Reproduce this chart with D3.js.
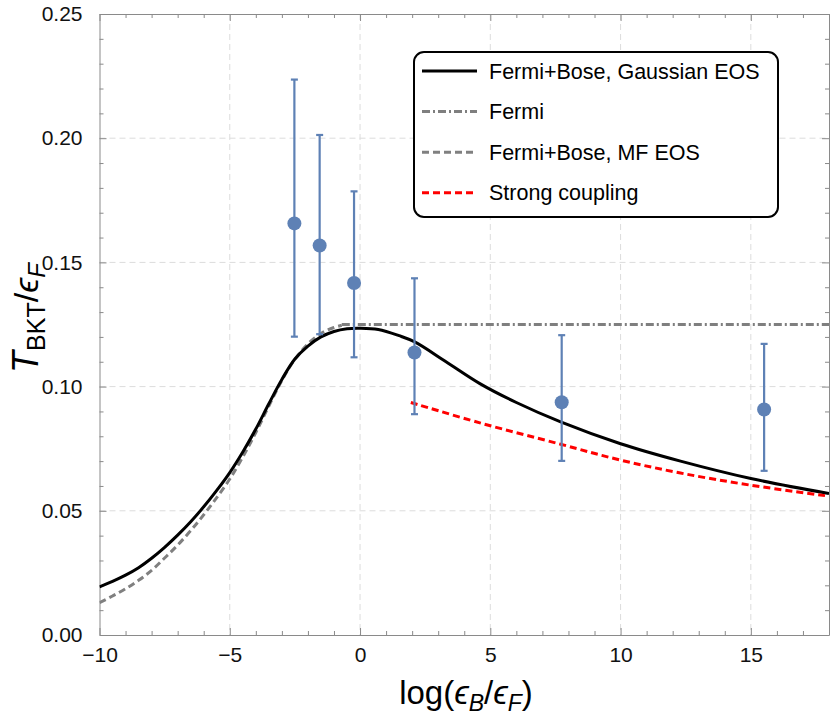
<!DOCTYPE html>
<html>
<head>
<meta charset="utf-8">
<script src="https://cdn.jsdelivr.net/npm/d3@7"></script>
<style>
  body { margin: 0; background: #fff; }
  svg { font-family: "Liberation Sans", Arial, sans-serif; }
  .grid line { stroke: #dcdcdc; stroke-dasharray: 6,4; stroke-width: 1; }
  .axis path, .axis line { stroke: #8a8a8a; }
  .axis text { fill: #111; font-size: 21px; }
</style>
</head>
<body>
<svg width="830" height="717"></svg>
<script>
// curves
var gaussX = [-10, -9.5, -9, -8.5, -8, -7.5, -7, -6.5, -6, -5.5, -5, -4.5, -4, -3.5, -3, -2.5, -2, -1.5, -1, -0.5, 0, 0.7, 1.5, 2.1, 3.3, 4.6, 6, 7.7, 10, 12.3, 15, 18];
var gaussY = [0.0194, 0.0216, 0.0241, 0.0271, 0.0309, 0.0353, 0.0402, 0.0456, 0.0516, 0.0582, 0.0654, 0.0737, 0.0829, 0.0931, 0.1029, 0.1111, 0.1163, 0.1200, 0.1222, 0.1233, 0.1235, 0.1230, 0.1205, 0.1180, 0.1100, 0.1012, 0.0936, 0.0858, 0.0770, 0.0700, 0.0630, 0.0570];

var mfX = [-10, -9.5, -9, -8.5, -8, -7.5, -7, -6.5, -6, -5.5, -5, -4.5, -4, -3.5, -3, -2.5, -2, -1.5, -1, -0.7];
var mfY = [0.0130, 0.0157, 0.0186, 0.0220, 0.0260, 0.0310, 0.0362, 0.0420, 0.0484, 0.0553, 0.0628, 0.0717, 0.0815, 0.0922, 0.1025, 0.1110, 0.1172, 0.1214, 0.1238, 0.1247];

var fermiX = [-0.7, 18];
var fermiY = [0.125, 0.125];

var strongX = [1.95, 4.6, 7.7, 10, 12.3, 15, 18];
var strongY = [0.0936, 0.0854, 0.0768, 0.0704, 0.0652, 0.0603, 0.0559];

// experiment points with error bars
var expX = [-2.52, -1.55, -0.23, 2.09, 7.74, 15.51];
var expY = [0.1657, 0.1568, 0.1417, 0.1137, 0.0937, 0.0908];
var expHi = [0.2236, 0.2013, 0.1786, 0.1436, 0.1207, 0.1172];
var expLo = [0.1201, 0.1211, 0.1118, 0.0889, 0.0701, 0.0661];

var xMajor = [-10, -5, 0, 5, 10, 15];
var yMajor = [0, 0.05, 0.10, 0.15, 0.20, 0.25];

var legendNames = ["Fermi+Bose, Gaussian EOS", "Fermi", "Fermi+Bose, MF EOS", "Strong coupling"];

var pL = 99.5, pR = 829, pT = 14, pB = 635;

var x = d3.scaleLinear().domain([-10, 18]).range([pL, pR]);
var y = d3.scaleLinear().domain([0, 0.25]).range([pB, pT]);

var xMinor = d3.range(-10, 18.01, 1).filter(function(d) { return d % 5 !== 0; });
var yMinor = d3.range(1, 25, 1).filter(function(d) { return d % 5 !== 0; }).map(function(d) { return d / 100; });

var svg = d3.select("svg");

// grid
var grid = svg.append("g").attr("class", "grid");
grid.selectAll(".gx").data(xMajor.slice(1)).enter().append("line")
    .attr("x1", function(d) { return x(d); }).attr("x2", function(d) { return x(d); })
    .attr("y1", pT).attr("y2", pB);
grid.selectAll(".gy").data(yMajor.slice(1, -1)).enter().append("line")
    .attr("y1", function(d) { return y(d); }).attr("y2", function(d) { return y(d); })
    .attr("x1", pL).attr("x2", pR);

// frame axes, ticks point inward
function frame(axisFn, scale, major, minor, transform, labels, fmt, pad) {
    var g = svg.append("g").attr("class", "axis").attr("transform", transform);
    g.call(axisFn(scale).tickValues(major).tickSizeInner(-7).tickSizeOuter(0)
        .tickPadding(pad || 12).tickFormat(labels ? d3.format(fmt) : ""));
    var m = svg.append("g").attr("class", "axis").attr("transform", transform);
    m.call(axisFn(scale).tickValues(minor).tickSizeInner(-4).tickSizeOuter(0).tickFormat(""));
    m.select(".domain").remove();
    return g;
}
frame(d3.axisBottom, x, xMajor, xMinor, "translate(0," + pB + ")", true, "d", 12);
frame(d3.axisTop, x, xMajor, xMinor, "translate(0," + pT + ")", false);
frame(d3.axisLeft, y, yMajor, yMinor, "translate(" + pL + ",0)", true, ".2f", 17);
frame(d3.axisRight, y, yMajor, yMinor, "translate(" + pR + ",0)", false);

svg.append("clipPath").attr("id", "plot").append("rect")
    .attr("x", pL).attr("y", pT).attr("width", pR - pL).attr("height", pB - pT);

var line = d3.line()
    .x(function(d) { return x(d[0]); })
    .y(function(d) { return y(d[1]); })
    .curve(d3.curveCatmullRom.alpha(0.5));

var curves = svg.append("g").attr("clip-path", "url(#plot)");
var series = [
    {xs: gaussX, ys: gaussY, color: "#000", dash: null},
    {xs: fermiX, ys: fermiY, color: "#7f7f7f", dash: "8,3,2,3"},
    {xs: mfX, ys: mfY, color: "#808080", dash: "7,4"},
    {xs: strongX, ys: strongY, color: "#ff0000", dash: "7,4"}
];
// draw order: MF and Fermi under, Gaussian on top of them
[2, 1, 0, 3].forEach(function(i) {
    var s = series[i];
    curves.append("path")
        .datum(d3.zip(s.xs, s.ys))
        .attr("fill", "none")
        .attr("stroke", s.color)
        .attr("stroke-width", 3)
        .attr("stroke-dasharray", s.dash)
        .attr("d", line);
});

// error bars
var pts = d3.range(expX.length).map(function(i) {
    return {x: expX[i], y: expY[i], hi: expHi[i], lo: expLo[i]};
});
var eb = svg.append("g").attr("stroke", "#5e81b5").attr("stroke-width", 2.2);
eb.selectAll(".bar").data(pts).enter().append("line")
    .attr("x1", function(d) { return x(d.x); }).attr("x2", function(d) { return x(d.x); })
    .attr("y1", function(d) { return y(d.hi); }).attr("y2", function(d) { return y(d.lo); });
["hi", "lo"].forEach(function(k) {
    eb.selectAll(".cap" + k).data(pts).enter().append("line")
        .attr("x1", function(d) { return x(d.x) - 3.5; }).attr("x2", function(d) { return x(d.x) + 3.5; })
        .attr("y1", function(d) { return y(d[k]); }).attr("y2", function(d) { return y(d[k]); });
});
svg.append("g").selectAll("circle").data(pts).enter().append("circle")
    .attr("cx", function(d) { return x(d.x); })
    .attr("cy", function(d) { return y(d.y); })
    .attr("r", 7)
    .attr("fill", "#5e81b5");

// legend
var lg = svg.append("g").attr("transform", "translate(414,52)");
lg.append("rect").attr("width", 364).attr("height", 165).attr("rx", 10)
    .attr("fill", "#fff").attr("stroke", "#000").attr("stroke-width", 2);
[0, 1, 2, 3].forEach(function(i, j) {
    var s = series[i], ry = 19 + j * 40.6;
    lg.append("line").attr("x1", 8).attr("x2", 63).attr("y1", ry).attr("y2", ry)
        .attr("stroke", s.color).attr("stroke-width", 3).attr("stroke-dasharray", s.dash);
    lg.append("text").attr("x", 75).attr("y", ry + 7.5).attr("font-size", 21.5).text(legendNames[i]);
});

// axis titles
var xt = svg.append("text").attr("x", 466).attr("y", 704).attr("text-anchor", "middle").attr("font-size", 33);
xt.append("tspan").text("log(");
xt.append("tspan").attr("font-style", "italic").text("ϵ");
xt.append("tspan").attr("font-style", "italic").attr("font-size", 23).attr("dy", 7).text("B");
xt.append("tspan").attr("dy", -7).text("/");
xt.append("tspan").attr("font-style", "italic").text("ϵ");
xt.append("tspan").attr("font-style", "italic").attr("font-size", 23).attr("dy", 7).text("F");
xt.append("tspan").attr("dy", -7).text(")");

var yt = svg.append("text").attr("transform", "translate(38,318) rotate(-90)")
    .attr("text-anchor", "middle").attr("font-size", 34);
yt.append("tspan").attr("font-style", "italic").attr("font-size", 36).text("T");
yt.append("tspan").attr("font-size", 25).attr("dy", 7).text("BKT");
yt.append("tspan").attr("dy", -7).text("/");
yt.append("tspan").attr("font-style", "italic").text("ϵ");
yt.append("tspan").attr("font-style", "italic").attr("font-size", 24).attr("dy", 7).text("F");
</script>
</body>
</html>
